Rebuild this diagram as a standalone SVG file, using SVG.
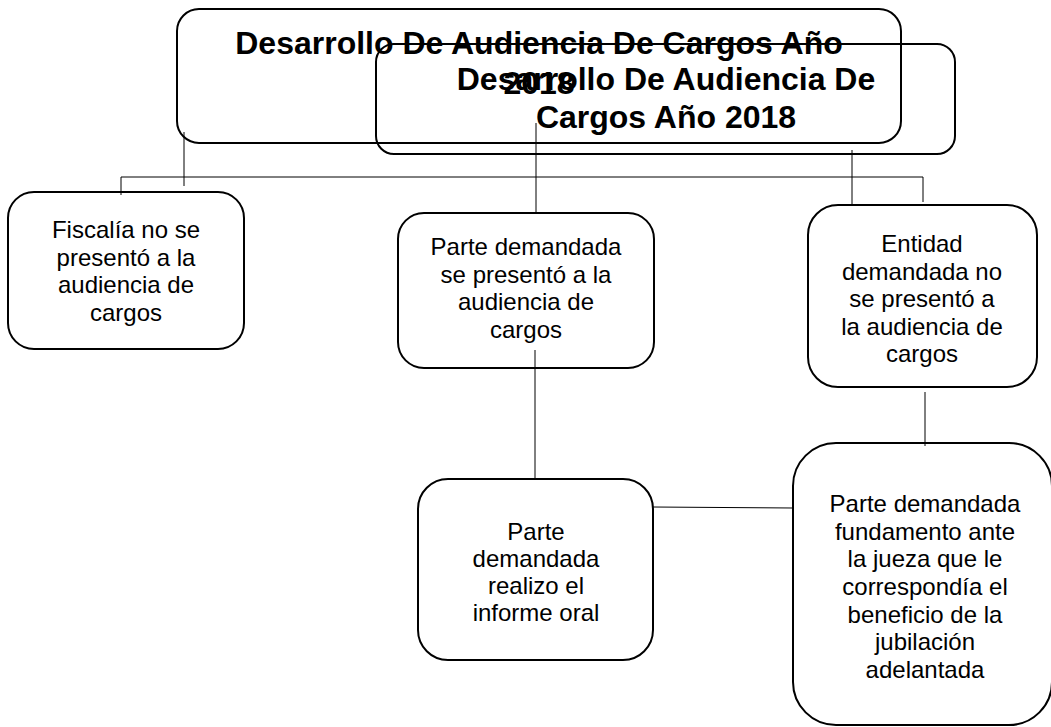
<svg xmlns="http://www.w3.org/2000/svg" width="1051" height="727" viewBox="0 0 1051 727">
<style>
.box{fill:none;stroke:#000;stroke-width:2}
.t{font-family:"Liberation Sans",Arial,sans-serif;font-size:24px;fill:#000;text-anchor:middle}
.h{font-family:"Liberation Sans",Arial,sans-serif;font-size:32px;font-weight:bold;fill:#000;text-anchor:middle}
.c{fill:none;stroke:#000;stroke-width:1}
</style>
<rect width="1051" height="727" fill="#fff"/>
<g id="title1">
<rect class="box" x="177" y="9" width="724" height="134" rx="22"/>
<text class="h" x="539" y="54">Desarrollo De Audiencia De Cargos Año</text>
<text class="h" x="539" y="94">2018</text>
</g>
<g id="title2">
<rect class="box" x="376" y="44" width="579" height="110" rx="18"/>
<text class="h" x="666" y="90">Desarrollo De Audiencia De</text>
<text class="h" x="666" y="128">Cargos Año 2018</text>
</g>
<g id="connectors">
<line class="c" x1="184" y1="132" x2="184" y2="186"/>
<polyline class="c" points="121,195 121,177 923,177 923,202"/>
<line class="c" x1="536" y1="123" x2="536" y2="213"/>
<line class="c" x1="852" y1="150" x2="852" y2="205"/>
<line class="c" x1="535" y1="350" x2="535" y2="479"/>
<line class="c" x1="653" y1="507" x2="793" y2="508"/>
<line class="c" x1="925" y1="392" x2="925" y2="446"/>
</g>
<g id="fiscalia">
<rect class="box" x="8" y="192" width="236" height="157" rx="26"/>
<text class="t" x="126" y="238">Fiscalía no se</text>
<text class="t" x="126" y="266">presentó a la</text>
<text class="t" x="126" y="293">audiencia de</text>
<text class="t" x="126" y="321">cargos</text>
</g>
<g id="parte-presento">
<rect class="box" x="398" y="213" width="256" height="155" rx="26"/>
<text class="t" x="526" y="255">Parte demandada</text>
<text class="t" x="526" y="283">se presentó a la</text>
<text class="t" x="526" y="310">audiencia de</text>
<text class="t" x="526" y="338">cargos</text>
</g>
<g id="entidad">
<rect class="box" x="808" y="205" width="229" height="182" rx="30"/>
<text class="t" x="922" y="252">Entidad</text>
<text class="t" x="922" y="280">demandada no</text>
<text class="t" x="922" y="307">se presentó a</text>
<text class="t" x="922" y="335">la audiencia de</text>
<text class="t" x="922" y="362">cargos</text>
</g>
<g id="informe">
<rect class="box" x="418" y="479" width="235" height="181" rx="30"/>
<text class="t" x="536" y="540">Parte</text>
<text class="t" x="536" y="567">demandada</text>
<text class="t" x="536" y="594">realizo el</text>
<text class="t" x="536" y="621">informe oral</text>
</g>
<g id="fundamento">
<rect class="box" x="793" y="443" width="259" height="282" rx="43"/>
<text class="t" x="925" y="512">Parte demandada</text>
<text class="t" x="925" y="540">fundamento ante</text>
<text class="t" x="925" y="567">la jueza que le</text>
<text class="t" x="925" y="595">correspondía el</text>
<text class="t" x="925" y="623">beneficio de la</text>
<text class="t" x="925" y="650">jubilación</text>
<text class="t" x="925" y="678">adelantada</text>
</g>
</svg>
